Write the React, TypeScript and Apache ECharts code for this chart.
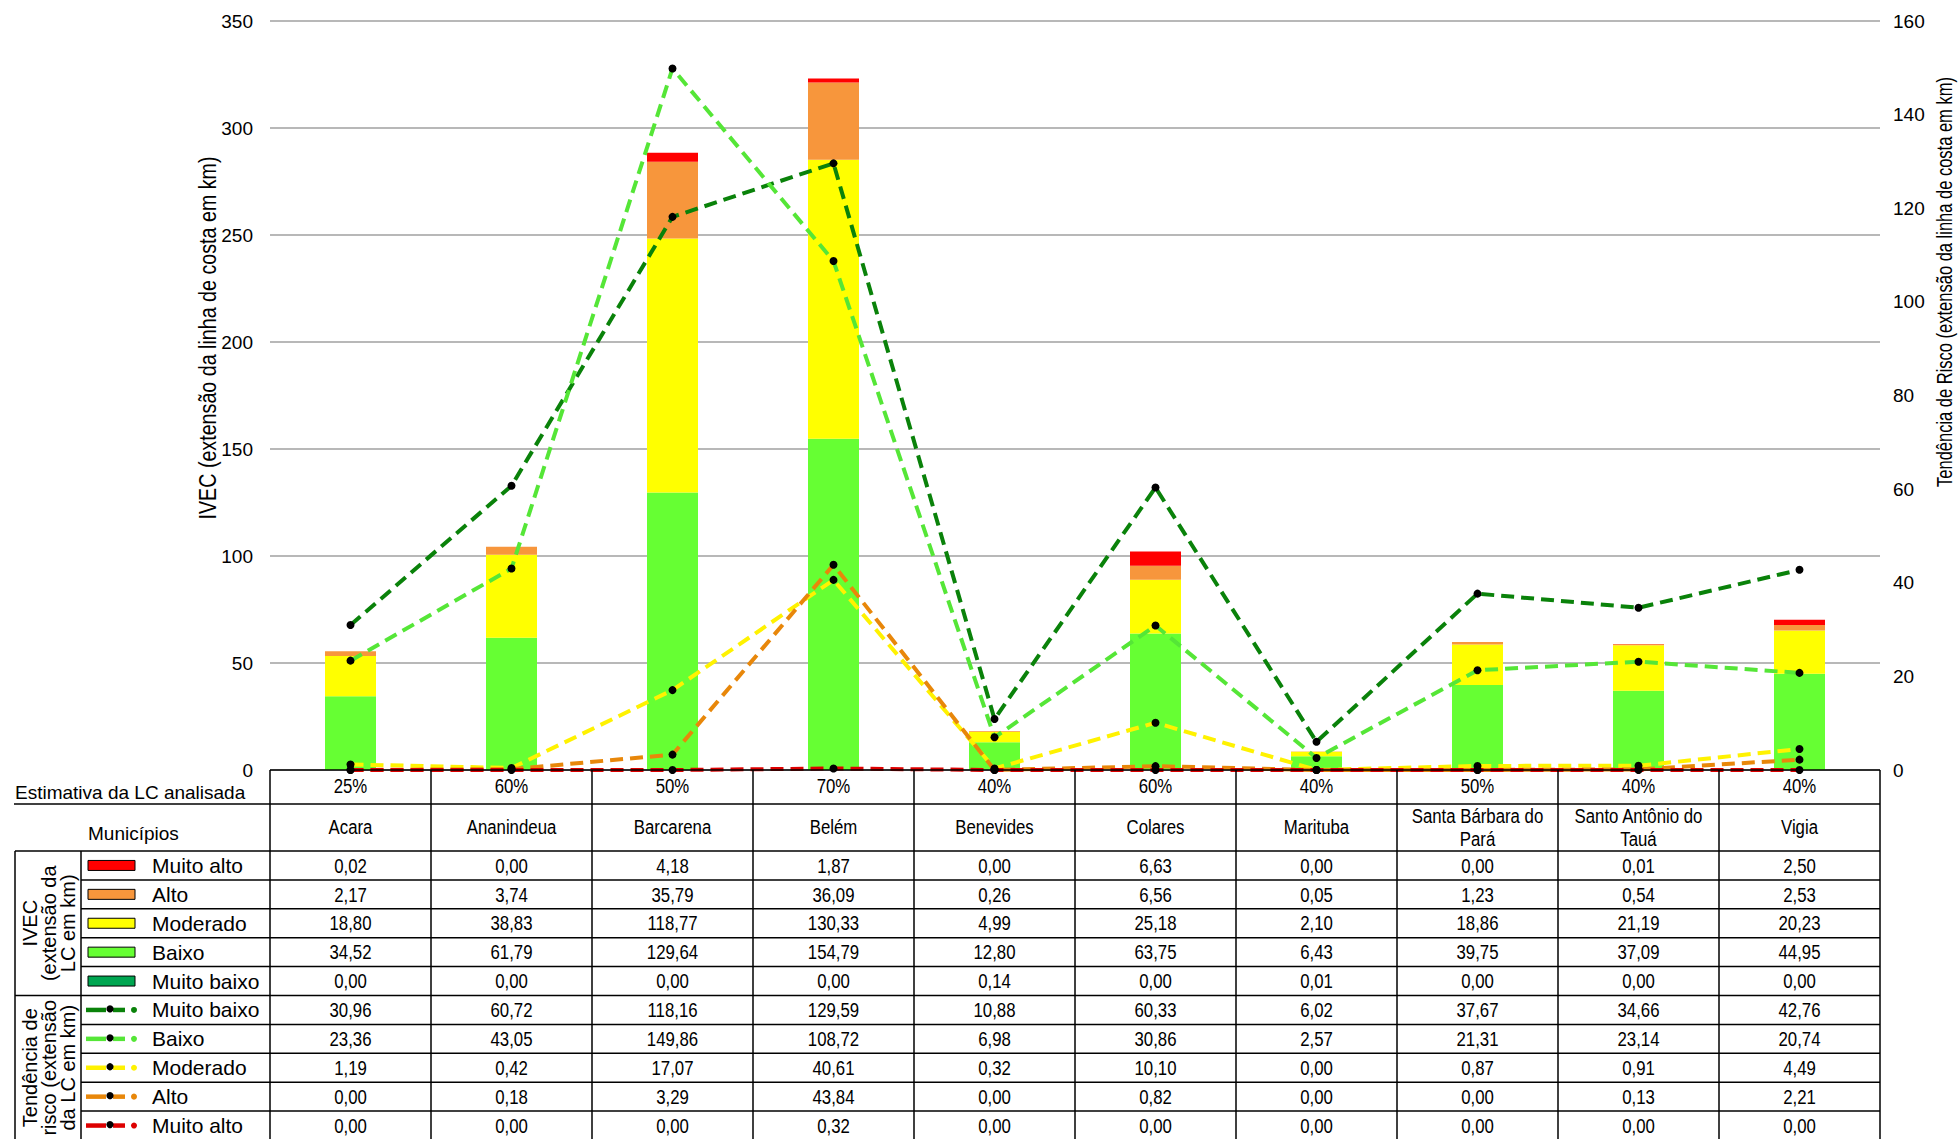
import React, { useEffect, useRef } from "react";
import * as echarts from "echarts";

// ---------------- data ----------------
const municipios = [
  "Acara",
  "Ananindeua",
  "Barcarena",
  "Belém",
  "Benevides",
  "Colares",
  "Marituba",
  "Santa Bárbara do\nPará",
  "Santo Antônio do\nTauá",
  "Vigia",
];
const estimativaLC = ["25%", "60%", "50%", "70%", "40%", "60%", "40%", "50%", "40%", "40%"];

// IVEC (extensão da LC em km) — left axis, stacked bars
const ivecMuitoAlto = [0.02, 0.0, 4.18, 1.87, 0.0, 6.63, 0.0, 0.0, 0.01, 2.5];
const ivecAlto = [2.17, 3.74, 35.79, 36.09, 0.26, 6.56, 0.05, 1.23, 0.54, 2.53];
const ivecModerado = [18.8, 38.83, 118.77, 130.33, 4.99, 25.18, 2.1, 18.86, 21.19, 20.23];
const ivecBaixo = [34.52, 61.79, 129.64, 154.79, 12.8, 63.75, 6.43, 39.75, 37.09, 44.95];
const ivecMuitoBaixo = [0.0, 0.0, 0.0, 0.0, 0.14, 0.0, 0.01, 0.0, 0.0, 0.0];

// Tendência de risco (extensão da LC em km) — right axis, dashed lines
const tendMuitoBaixo = [30.96, 60.72, 118.16, 129.59, 10.88, 60.33, 6.02, 37.67, 34.66, 42.76];
const tendBaixo = [23.36, 43.05, 149.86, 108.72, 6.98, 30.86, 2.57, 21.31, 23.14, 20.74];
const tendModerado = [1.19, 0.42, 17.07, 40.61, 0.32, 10.1, 0.0, 0.87, 0.91, 4.49];
const tendAlto = [0.0, 0.18, 3.29, 43.84, 0.0, 0.82, 0.0, 0.0, 0.13, 2.21];
const tendMuitoAlto = [0.0, 0.0, 0.0, 0.32, 0.0, 0.0, 0.0, 0.0, 0.0, 0.0];

const leftAxis = { min: 0, max: 350, interval: 50 };
const rightAxis = { min: 0, max: 160, interval: 20 };

const leftTitle = "IVEC (extensão da linha de costa em km)";
const rightTitle = "Tendência de Risco (extensão da linha de costa em km)";
const rowLabelEstimativa = "Estimativa da LC analisada";
const rowLabelMunicipios = "Municípios";
const groupIvec = "IVEC\n(extensão da\nLC em km)";
const groupTend = "Tendência de\nrisco (extensão\nda LC em km)";

// ---------------- styles ----------------
const FONT = "'Liberation Sans', Arial, sans-serif";
const NARROW = 0.8; // horizontal squeeze to imitate a narrow face

const barColors = {
  muitoAlto: "#ff0000",
  alto: "#f7963c",
  moderado: "#ffff00",
  baixo: "#66ff33",
  muitoBaixo: "#00a651",
};
const lineColors = {
  muitoBaixo: "#0a820a",
  baixo: "#55e637",
  moderado: "#fff200",
  alto: "#e8870a",
  muitoAlto: "#dd0000",
};

const W = 1960;
const H = 1139;
const GRID_L = 270;
const GRID_R = 1880;
const GRID_T = 21;
const ZERO_Y = 770;

const fmt = (v: number) => v.toFixed(2).replace(".", ",");

export default function App() {
  const ref = useRef<HTMLDivElement>(null);

  useEffect(() => {
    document.body.style.margin = "0";
    if (!ref.current) return;
    const chart = echarts.init(ref.current, undefined, { renderer: "svg" });

    const n = municipios.length;
    const colW = (GRID_R - GRID_L) / n;
    const rowPctTop = ZERO_Y;
    const rowMunTop = 804;
    const dataTop = 851;
    const tableBottom = 1140;
    const rowH = (tableBottom - dataTop) / 10;
    const boxL = 15;
    const boxR = 81;

    const ivecRows = [
      { label: "Muito alto", data: ivecMuitoAlto, color: barColors.muitoAlto },
      { label: "Alto", data: ivecAlto, color: barColors.alto },
      { label: "Moderado", data: ivecModerado, color: barColors.moderado },
      { label: "Baixo", data: ivecBaixo, color: barColors.baixo },
      { label: "Muito baixo", data: ivecMuitoBaixo, color: barColors.muitoBaixo },
    ];
    const tendRows = [
      { label: "Muito baixo", data: tendMuitoBaixo, color: lineColors.muitoBaixo },
      { label: "Baixo", data: tendBaixo, color: lineColors.baixo },
      { label: "Moderado", data: tendModerado, color: lineColors.moderado },
      { label: "Alto", data: tendAlto, color: lineColors.alto },
      { label: "Muito alto", data: tendMuitoAlto, color: lineColors.muitoAlto },
    ];

    const g: any[] = [];
    const line = (x1: number, y1: number, x2: number, y2: number, w = 1.5) =>
      g.push({
        type: "line",
        silent: true,
        z: 50,
        shape: { x1, y1, x2, y2 },
        style: { stroke: "#000", lineWidth: w },
      });
    const text = (
      t: string,
      x: number,
      y: number,
      size: number,
      opts: { align?: string; rotation?: number; lineHeight?: number; sx?: number } = {}
    ) => {
      const align = opts.align || "center";
      g.push({
        type: "text",
        silent: true,
        z: 50,
        x,
        y,
        rotation: opts.rotation || 0,
        scaleX: opts.sx || 1,
        style: {
          text: t,
          fill: "#000",
          fontSize: size,
          fontFamily: FONT,
          align,
          verticalAlign: "middle",
          textAlign: align,
          textVerticalAlign: "middle",
          lineHeight: opts.lineHeight || Math.round(size * 1.15),
        },
      });
    };

    // axis titles
    text(leftTitle, 208, 338, 24, { rotation: Math.PI / 2, sx: 0.82 });
    text(rightTitle, 1944, 282, 22, { rotation: Math.PI / 2, sx: 0.75 });

    // table grid lines
    for (let i = 0; i <= n; i++) {
      const x = GRID_L + i * colW;
      line(x, rowPctTop, x, tableBottom);
    }
    line(GRID_L, rowPctTop, GRID_R, rowPctTop);
    line(boxL - 1, rowMunTop, GRID_R, rowMunTop);
    line(boxL, dataTop, GRID_R, dataTop);
    for (let k = 1; k < 10; k++) {
      const y = dataTop + k * rowH;
      line(k === 5 ? boxL : boxR, y, GRID_R, y);
    }
    line(boxL, dataTop, boxL, tableBottom);
    line(boxR, dataTop, boxR, tableBottom);

    // header rows
    text(rowLabelEstimativa, boxL, 792, 19, { align: "left" });
    text(rowLabelMunicipios, 88, 833, 19, { align: "left" });
    for (let i = 0; i < n; i++) {
      const cx = GRID_L + (i + 0.5) * colW;
      text(estimativaLC[i], cx, 786, 21, { sx: NARROW });
      text(municipios[i], cx, 827, 21, { sx: NARROW, lineHeight: 23 });
    }

    // group labels
    text(groupIvec, 49, dataTop + 2.5 * rowH, 20, { rotation: Math.PI / 2, lineHeight: 19 });
    text(groupTend, 49, dataTop + 7.5 * rowH, 20, { rotation: Math.PI / 2, lineHeight: 19 });

    // data rows
    ivecRows.forEach((r, k) => {
      const cy = dataTop + (k + 0.5) * rowH;
      g.push({
        type: "rect",
        silent: true,
        z: 50,
        shape: { x: 88, y: cy - 5, width: 47, height: 10 },
        style: { fill: r.color, stroke: "#000", lineWidth: 1 },
      });
      text(r.label, 152, cy, 21, { align: "left" });
      r.data.forEach((v, i) => text(fmt(v), GRID_L + (i + 0.5) * colW, cy, 21, { sx: NARROW }));
    });
    tendRows.forEach((r, k) => {
      const cy = dataTop + (k + 5.5) * rowH;
      g.push({
        type: "line",
        silent: true,
        z: 50,
        shape: { x1: 86, y1: cy, x2: 106, y2: cy },
        style: { stroke: r.color, lineWidth: 4.5 },
      });
      g.push({
        type: "line",
        silent: true,
        z: 50,
        shape: { x1: 113, y1: cy, x2: 125, y2: cy },
        style: { stroke: r.color, lineWidth: 4.5 },
      });
      g.push({
        type: "circle",
        silent: true,
        z: 51,
        shape: { cx: 110, cy: cy - 1, r: 3.6 },
        style: { fill: "#000" },
      });
      g.push({
        type: "circle",
        silent: true,
        z: 50,
        shape: { cx: 134, cy, r: 3 },
        style: { fill: r.color },
      });
      text(r.label, 152, cy, 21, { align: "left" });
      r.data.forEach((v, i) => text(fmt(v), GRID_L + (i + 0.5) * colW, cy, 21, { sx: NARROW }));
    });

    const barSeries = [
      { name: "Muito baixo", data: ivecMuitoBaixo, color: barColors.muitoBaixo },
      { name: "Baixo", data: ivecBaixo, color: barColors.baixo },
      { name: "Moderado", data: ivecModerado, color: barColors.moderado },
      { name: "Alto", data: ivecAlto, color: barColors.alto },
      { name: "Muito alto", data: ivecMuitoAlto, color: barColors.muitoAlto },
    ].map((s) => ({
      type: "bar",
      name: "IVEC " + s.name,
      stack: "ivec",
      yAxisIndex: 0,
      barWidth: 51,
      data: s.data,
      itemStyle: { color: s.color },
      z: 2,
    }));

    const lineSeries = tendRows.map((r) => ({
      type: "line",
      name: "Tendência " + r.label,
      yAxisIndex: 1,
      data: r.data,
      symbol: "circle",
      symbolSize: 8,
      showAllSymbol: true,
      itemStyle: { color: "#000" },
      lineStyle: { color: r.color, width: 4, type: [13, 7] },
      z: 3,
    }));

    chart.setOption({
      animation: false,
      backgroundColor: "#fff",
      grid: {
        left: GRID_L,
        right: W - GRID_R,
        top: GRID_T,
        bottom: H - ZERO_Y,
        containLabel: false,
      },
      xAxis: {
        type: "category",
        data: municipios,
        show: false,
      },
      yAxis: [
        {
          type: "value",
          min: leftAxis.min,
          max: leftAxis.max,
          interval: leftAxis.interval,
          axisLine: { show: false },
          axisTick: { show: false },
          axisLabel: { color: "#000", fontSize: 19, fontFamily: FONT, margin: 17 },
          splitLine: { lineStyle: { color: "#a0a0a0", width: 1.5 } },
        },
        {
          type: "value",
          min: rightAxis.min,
          max: rightAxis.max,
          interval: rightAxis.interval,
          axisLine: { show: false },
          axisTick: { show: false },
          axisLabel: { color: "#000", fontSize: 19, fontFamily: FONT, margin: 13 },
          splitLine: { show: false },
        },
      ],
      series: [...barSeries, ...lineSeries],
      graphic: { elements: g },
    });

    return () => chart.dispose();
  }, []);

  return (
    <div
      ref={ref}
      style={{ position: "absolute", left: 0, top: 0, width: W, height: H, background: "#fff" }}
    />
  );
}
